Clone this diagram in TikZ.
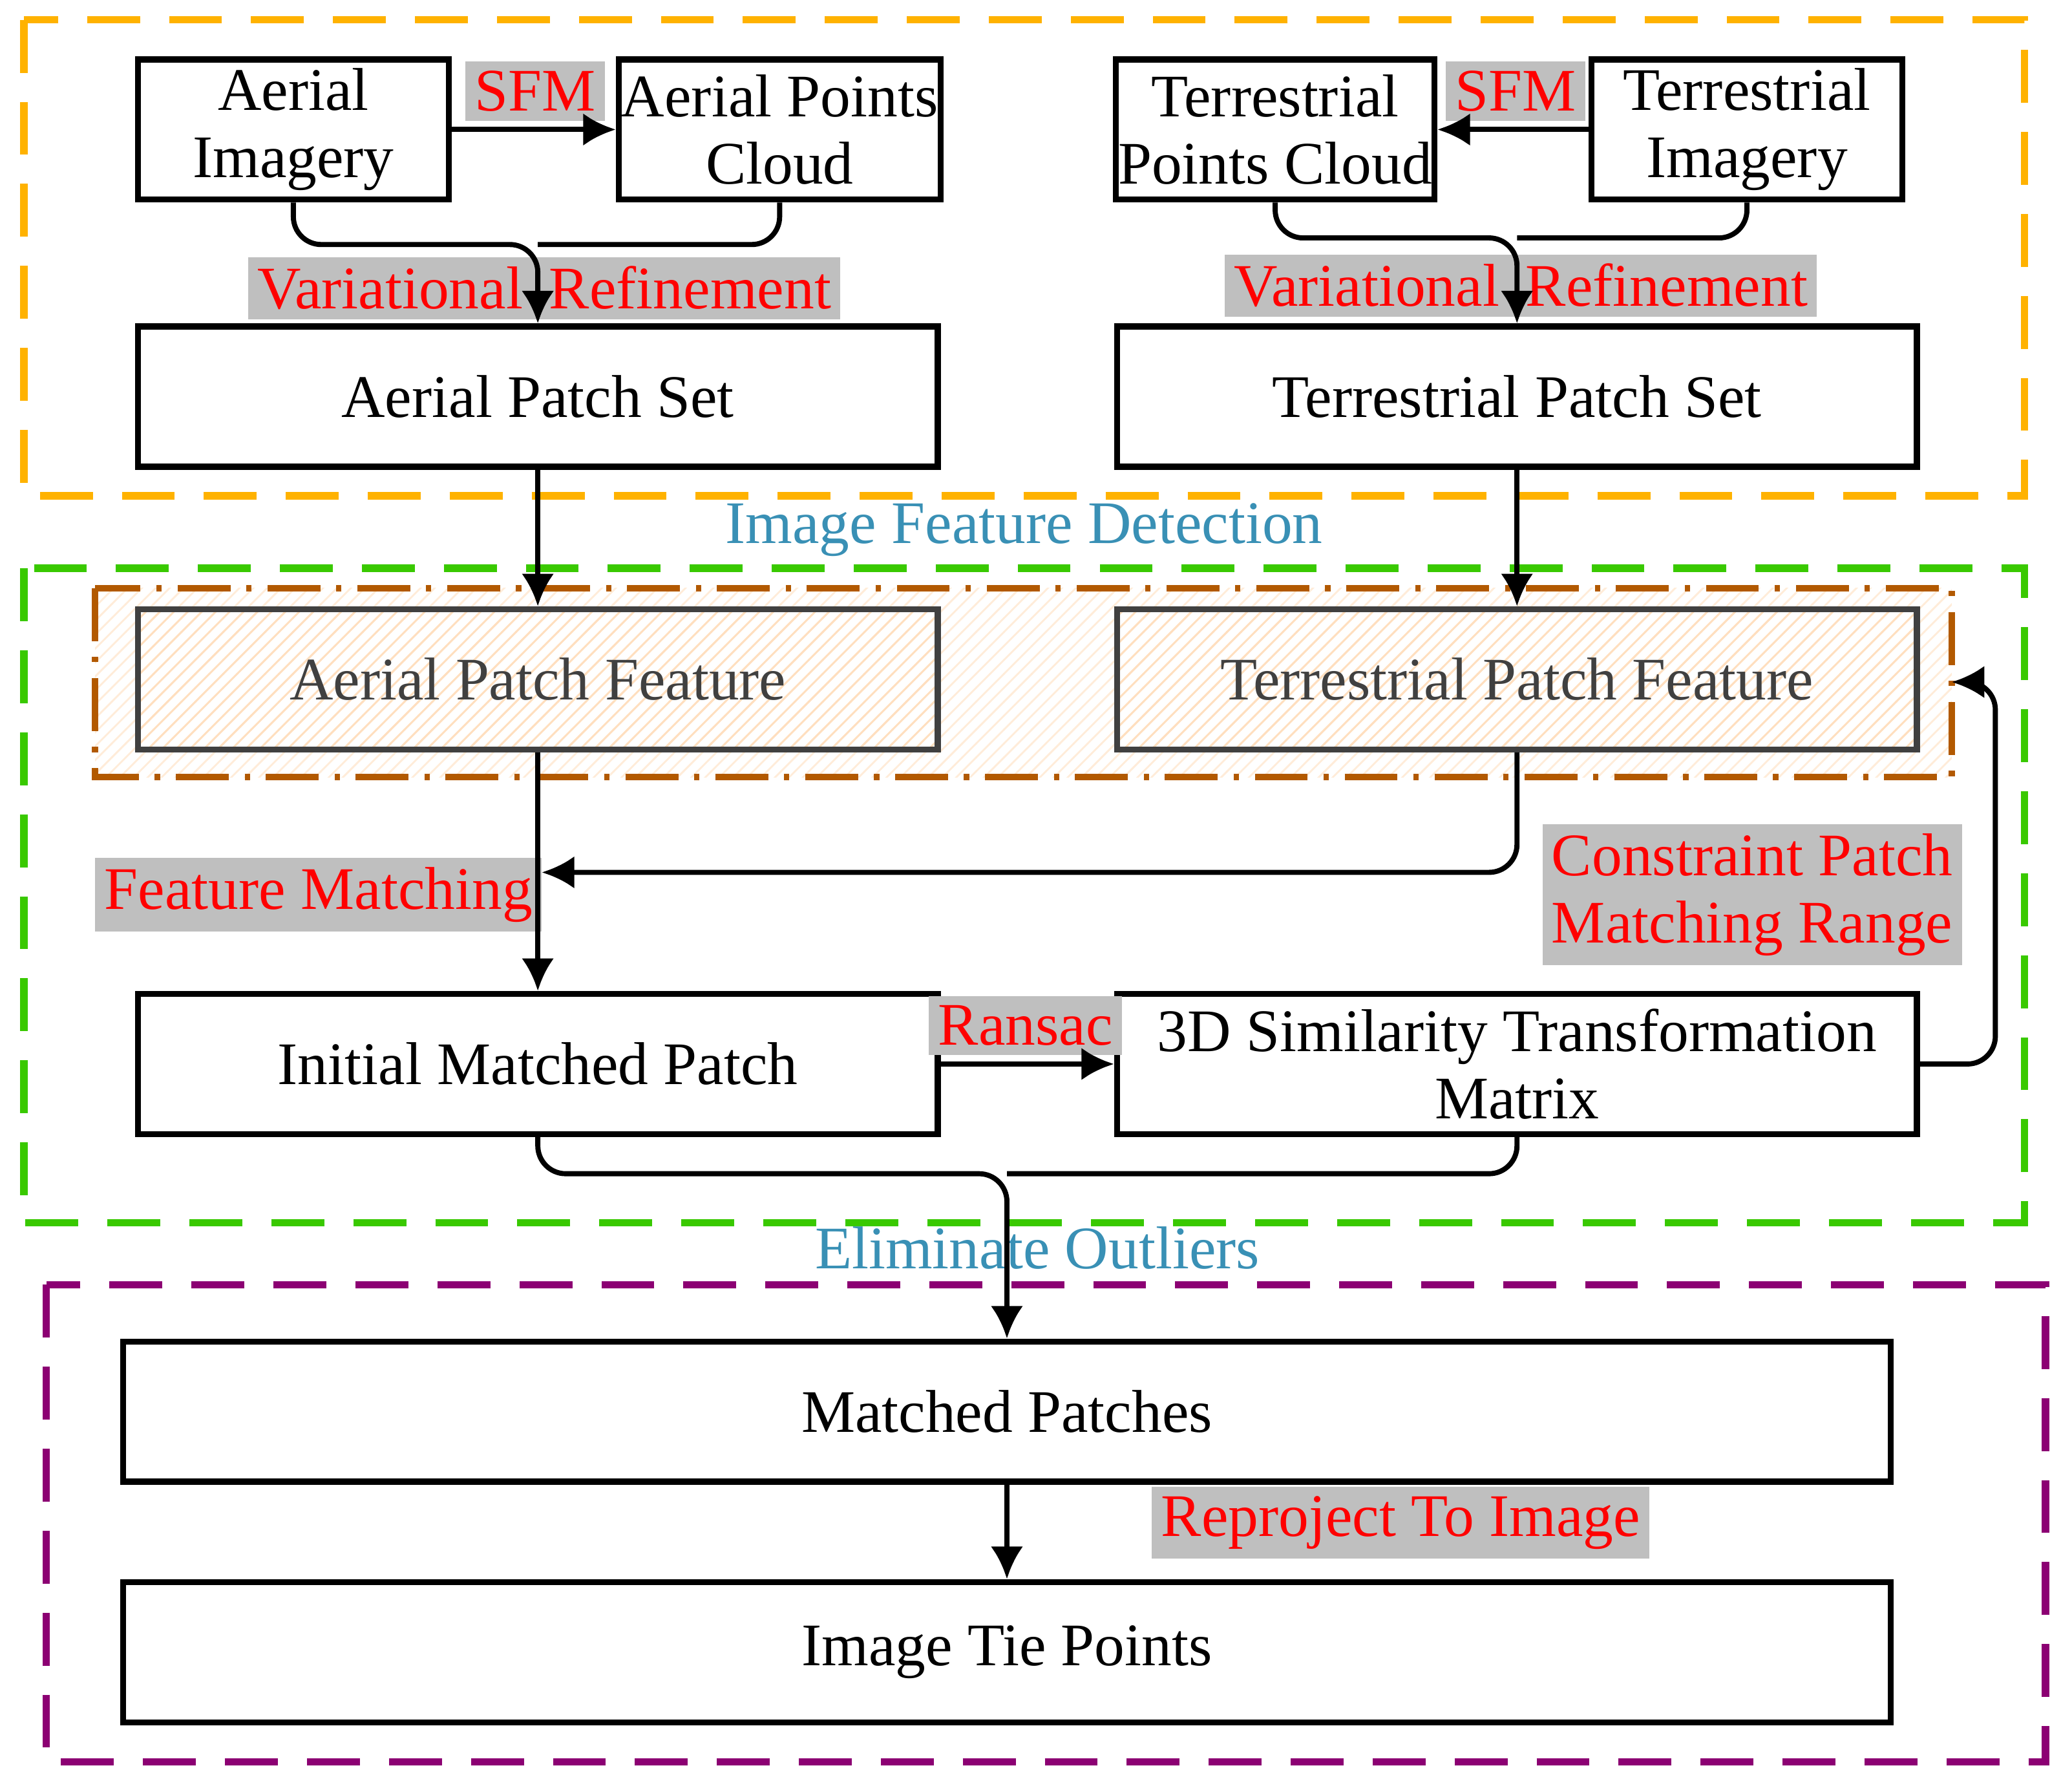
\documentclass[tikz,border=0pt]{standalone}
\usepackage{fontspec}
\setmainfont{Liberation Serif}
\usetikzlibrary{patterns,arrows.meta}
\begin{document}
\begin{tikzpicture}[x=0.01cm,y=-0.01cm,
    font=\fontsize{13}{14.5}\selectfont,
    box/.style={draw,line width=1.3pt,minimum height=1.06cm,inner sep=0.5pt,align=center},
    feat/.style={box,draw=black!75,text=black!75,pattern=north east lines,pattern color=orange!25},
    lbl/.style={fill=black!25,text=red,inner sep=2pt,align=left},
    stage/.style={text=cyan!70!black},
    conn/.style={line width=1.1pt,rounded corners=6pt,-{Latex[length=7pt,width=7pt]}}]
  \useasboundingbox (0,0) rectangle (1568,1354);
  % Rahmen der drei Stufen
  \draw[orange!60!yellow,line width=1.6pt,dash pattern=on 0.4cm off 0.22cm] (18,15) rectangle (1532,375);
  \draw[green!70!black!70!lime,line width=1.6pt,dash pattern=on 0.4cm off 0.22cm] (18,430) rectangle (1532,925);
  \draw[violet!80!purple,line width=1.6pt,dash pattern=on 0.4cm off 0.22cm] (35,972) rectangle (1548,1333);
  \draw[orange!70!black,line width=1.4pt,dash pattern=on 0.4cm off 0.12cm on 0.04cm off 0.12cm,
        pattern=north east lines,pattern color=orange!15] (72,445) rectangle (1477,588);
  % Eingangsdaten
  \node[box,minimum width=2.35cm] (aerImg) at (222,98) {Aerial\\Imagery};
  \node[box,minimum width=2.36cm] (aerPts) at (590,98) {Aerial Points\\Cloud};
  \node[box,minimum width=2.35cm] (terPts) at (965,98) {Terrestrial\\Points Cloud};
  \node[box,minimum width=2.35cm] (terImg) at (1322,98) {Terrestrial\\Imagery};
  % Patch-Mengen und Merkmale
  \node[box,minimum width=6.05cm] (aerSet) at (407,300) {Aerial Patch Set};
  \node[box,minimum width=6.05cm] (terSet) at (1148,300) {Terrestrial Patch Set};
  \node[feat,minimum width=6.05cm] (aerFeat) at (407,514) {Aerial Patch Feature};
  \node[feat,minimum width=6.05cm] (terFeat) at (1148,514) {Terrestrial Patch Feature};
  \node[box,minimum width=6.05cm] (initMatch) at (407,805) {Initial Matched Patch};
  \node[box,minimum width=6.05cm] (simTrans) at (1148,805) {3D Similarity Transformation\\Matrix};
  \node[box,minimum width=13.37cm] (matched) at (762,1068) {Matched Patches};
  \node[box,minimum width=13.37cm] (tiePts) at (762,1250) {Image Tie Points};
  % Beschriftungen
  \node[lbl] (sfmA) at (405,69) {SFM};
  \node[lbl] (sfmT) at (1147,69) {SFM};
  \node[lbl,minimum width=4.35cm] (refA) at (412,218) {Variational\hspace{0.2cm}Refinement};
  \node[lbl,minimum width=4.33cm] (refT) at (1151,216) {Variational\hspace{0.2cm}Refinement};
  \node[stage] (detect) at (775,401) {Image Feature Detection};
  \node[lbl,minimum width=3.22cm] (featMatch) at (241,677) {Feature Matching};
  \node[lbl,minimum width=3.02cm] (constr) at (1326,677) {Constraint Patch\\Matching Range};
  \node[lbl] (ransac) at (776,776) {Ransac};
  \node[stage] (elim) at (785,944) {Eliminate Outliers};
  \node[lbl,minimum width=3.6cm] (reproj) at (1060,1152) {Reproject To Image};
  % Hilfspunkte
  \coordinate (featIn) at (1477,516);
  \coordinate (matchIn) at (410,660);
  % Verbindungen
  \draw[conn] (aerImg) -- (aerPts);
  \draw[conn] (terImg) -- (terPts);
  \draw[conn] (aerImg.south) |- (407,185) -- (aerSet.north);
  \draw[line width=1.1pt,rounded corners=6pt] (aerPts.south) |- (407,185);
  \draw[conn] (terPts.south) |- (1148,180) -- (terSet.north);
  \draw[line width=1.1pt,rounded corners=6pt] (terImg.south) |- (1148,180);
  \draw[conn] (aerSet) -- (aerFeat);
  \draw[conn] (terSet) -- (terFeat);
  \draw[conn] (aerFeat) -- (initMatch);
  \draw[conn] (terFeat.south) |- (matchIn);
  \draw[conn] (initMatch) -- (simTrans);
  \draw[conn] (simTrans.east) -| (1510,516) -- (featIn);
  \draw[conn] (initMatch.south) |- (762,888) -- (matched.north);
  \draw[line width=1.1pt,rounded corners=6pt] (simTrans.south) |- (762,888);
  \draw[conn] (matched) -- (tiePts);
\end{tikzpicture}
\end{document}
